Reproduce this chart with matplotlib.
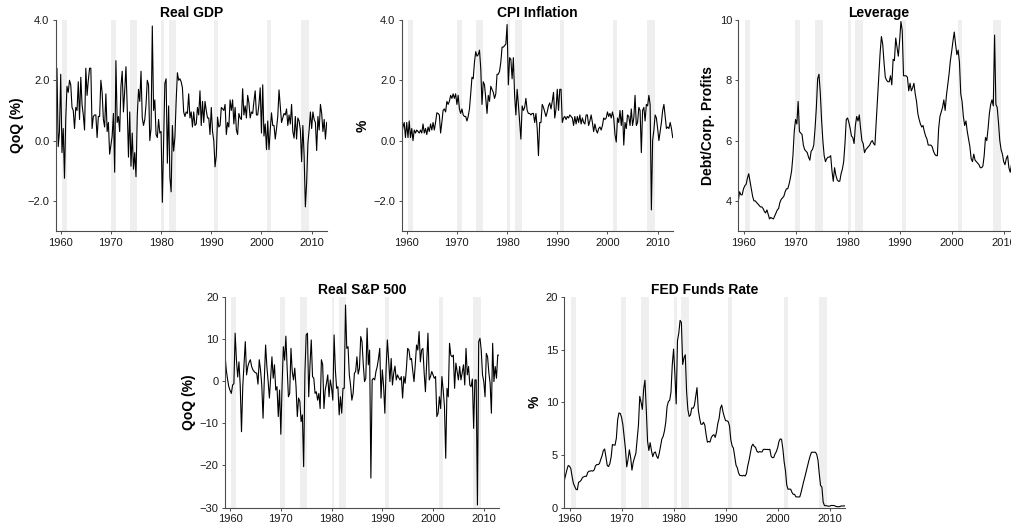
import numpy as np
import matplotlib
matplotlib.use("Agg")
import matplotlib.pyplot as plt
from matplotlib.ticker import FuncFormatter

plt.rcParams["font.family"] = ["Liberation Sans", "DejaVu Sans"]

# ---------------------------------------------------------------------------
# Quarterly series, first observation 1959Q1
# ---------------------------------------------------------------------------
START_YEAR = 1959.0

real_gdp = [
    2.1, 2.4, -0.2, 0.3,   2.2, -0.4, 0.4, -1.25,  0.7, 1.8, 1.6, 2.0,
    1.85, 1.1, 1.0, 0.4,   1.1, 1.0, 1.95, 0.7,    2.1, 1.2, 0.85, 0.35,
    2.4, 1.5, 2.0, 2.4,    2.4, 0.4, 0.8, 0.85,    0.85, 0.1, 0.8, 0.8,
    2.0, 1.6, 0.7, 0.45,   1.55, 0.3, 0.6, -0.45,  -0.15, 0.15, 0.9, -1.05,
    2.65, 0.6, 0.8, 0.3,   1.8, 2.3, 0.95, 1.65,   2.45, 1.1, -0.55, 0.95,
    -0.85, 0.25, -0.95, -0.4,  -1.2, 0.8, 1.7, 1.3,  2.3, 0.75, 0.5, 0.7,
    1.2, 2.0, 1.85, 0.0,   0.4, 3.8, 1.0, 1.35,    0.2, 0.1, 0.7, 0.25,
    0.3, -2.05, -0.1, 1.9,  2.05, -0.75, 1.15, -1.2,  -1.7, 0.5, -0.35, 0.1,
    1.3, 2.25, 2.0, 2.05,  1.95, 1.75, 0.95, 0.8,  0.95, 0.9, 1.55, 0.75,
    0.95, 0.45, 0.95, 0.5,  0.55, 1.1, 0.85, 1.65,  0.5, 1.3, 0.6, 1.3,
    1.0, 0.75, 0.75, 0.2,  1.1, 0.3, 0.0, -0.87,   -0.5, 0.78, 0.45, 0.5,
    1.1, 1.05, 1.0, 1.2,   0.2, 0.6, 0.45, 1.35,   1.0, 1.35, 0.55, 1.1,
    0.35, 0.2, 0.9, 0.75,  0.7, 1.72, 0.85, 1.15,  0.75, 1.5, 1.25, 0.75,
    0.95, 0.9, 1.3, 1.65,  0.85, 0.85, 1.2, 1.75,  0.25, 1.85, 0.15, 0.55,
    -0.3, 0.65, -0.3, 0.35,  0.92, 0.5, 0.5, 0.05,  0.4, 0.8, 1.68, 1.15,
    0.6, 0.75, 0.9, 0.85,  1.05, 0.5, 0.85, 0.55,  1.2, 0.3, 0.08, 0.8,
    0.05, 0.75, 0.65, 0.35,  -0.7, 0.5, -0.5, -2.2,  -1.4, -0.1, 0.35, 0.95,
    0.4, 0.95, 0.7, 0.6,   -0.33, 0.8, 0.35, 1.2,  0.9, 0.3, 0.7, 0.05,
    0.6,
]

cpi_inflation = [
    0.2, 0.45, 0.6, 0.1,   0.6, 0.1, 0.65, 0.1,    0.4, 0.0, 0.35, 0.25,
    0.35, 0.3, 0.25, 0.35,  0.25, 0.55, 0.25, 0.4,  0.2, 0.45, 0.3, 0.55,
    0.35, 0.6, 0.35, 0.6,  0.92, 0.9, 0.85, 0.25,  0.6, 1.0, 1.05, 0.95,
    1.3, 1.2, 1.3, 1.5,    1.4, 1.55, 1.4, 1.55,   1.2, 1.5, 1.05, 0.9,
    1.05, 0.85, 0.8, 0.8,  0.65, 0.8, 1.05, 1.55,  2.1, 2.05, 2.6, 2.95,
    2.8, 2.85, 3.0, 2.4,   1.2, 1.95, 1.85, 1.4,   0.9, 1.5, 1.3, 1.8,
    1.7, 1.6, 1.4, 1.55,   2.2, 2.2, 2.3, 2.6,     3.1, 3.1, 3.15, 3.2,
    3.85, 1.85, 2.75, 2.7,  2.05, 2.75, 1.5, 0.85,  1.7, 1.2, 0.6, 0.05,
    1.15, 1.0, 1.1, 1.4,   1.0, 0.9, 0.9, 0.85,    0.9, 0.9, 0.6, 0.9,
    0.4, -0.5, 0.6, 0.6,   1.2, 1.1, 0.95, 0.8,    0.95, 1.15, 1.25, 1.05,
    1.3, 1.6, 0.75, 1.05,  1.7, 1.0, 1.7, 1.7,     0.6, 0.75, 0.8, 0.7,
    0.8, 0.75, 0.85, 0.8,  0.75, 0.5, 0.8, 0.55,   0.8, 0.6, 0.85, 0.55,
    0.75, 0.6, 0.55, 0.85,  0.85, 0.5, 0.65, 0.85,  0.6, 0.3, 0.55, 0.35,
    0.25, 0.4, 0.45, 0.35,  0.5, 0.75, 0.7, 0.75,  0.95, 0.8, 0.9, 0.75,
    0.95, 0.75, 0.2, -0.05,  0.75, 0.6, 1.0, 0.5,  1.0, -0.15, 0.6, 0.4,
    0.85, 0.8, 0.5, 1.05,  0.5, 0.75, 1.5, 0.5,    0.6, 1.1, 1.0, -0.4,
    1.0, 1.1, 0.65, 1.2,   1.15, 1.5, 1.2, -2.3,   0.0, 0.35, 0.85, 0.75,
    0.4, 0.0, 0.3, 0.6,    1.0, 1.2, 0.8, 0.4,     0.45, 0.4, 0.6, 0.4,
    0.1,
]

leverage = [
    4.0, 4.3, 4.2, 4.2,    4.4, 4.5, 4.55, 4.75,   4.9, 4.65, 4.4, 4.15,
    4.0, 4.0, 3.95, 3.9,   3.85, 3.8, 3.8, 3.75,   3.65, 3.6, 3.7, 3.55,
    3.4, 3.45, 3.42, 3.4,  3.5, 3.6, 3.7, 3.75,    3.95, 4.05, 4.1, 4.15,
    4.3, 4.4, 4.4, 4.55,   4.75, 5.0, 5.5, 6.3,    6.7, 6.55, 7.3, 6.3,
    6.25, 6.2, 5.85, 5.7,  5.65, 5.6, 5.45, 5.35,  5.65, 5.7, 5.85, 6.4,
    7.1, 8.05, 8.2, 7.6,   6.7, 6.0, 5.5, 5.3,     5.4, 5.45, 5.45, 5.5,
    5.0, 4.65, 5.1, 4.85,  4.7, 4.65, 4.65, 4.9,   5.05, 5.3, 5.9, 6.7,
    6.75, 6.6, 6.4, 6.15,  6.1, 5.9, 6.5, 6.8,     6.65, 6.85, 6.4, 6.0,
    5.9, 5.6, 5.7, 5.75,   5.8, 5.85, 5.95, 6.0,   5.9, 5.85, 6.6, 7.4,
    8.1, 8.9, 9.45, 9.2,   8.6, 8.1, 8.0, 7.95,    7.95, 8.15, 7.85, 8.7,
    8.65, 9.4, 9.1, 8.8,   9.3, 9.95, 9.65, 8.15,  8.15, 8.15, 8.1, 7.65,
    7.9, 7.65, 7.75, 7.9,  7.55, 7.3, 6.9, 6.7,    6.55, 6.45, 6.5, 6.3,
    6.15, 6.05, 5.85, 5.85,  5.85, 5.8, 5.65, 5.55,  5.5, 5.5, 6.4, 6.8,
    6.95, 7.1, 7.35, 7.0,  7.5, 7.85, 8.2, 8.65,   8.95, 9.3, 9.6, 9.2,
    8.85, 9.0, 8.6, 7.55,  7.3, 6.8, 6.5, 6.65,    6.3, 6.05, 5.8, 5.4,
    5.3, 5.55, 5.35, 5.3,  5.25, 5.2, 5.1, 5.1,    5.15, 5.5, 6.1, 6.0,
    6.4, 6.9, 7.2, 7.35,   7.15, 9.5, 7.2, 7.1,    6.6, 6.0, 5.7, 5.55,
    5.3, 5.2, 5.4, 5.5,    5.1, 4.95, 5.2, 5.3,    5.25,
]

sp500_real = [
    6.2, 2.7, 0.5, -1.3,   -2.2, -2.9, -0.9, -0.6,  11.4, 5.1, 1.0, 4.6,
    -1.0, -12.0, -1.3, 4.0,  9.4, 1.5, 3.5, 4.5,  5.1, 3.5, 2.7, 2.3,
    2.0, 1.9, -0.7, 5.1,   2.7, -1.0, -8.8, 0.5,   8.6, 3.5, 0.0, -4.0,
    1.0, 5.8, 0.7, 3.9,    -2.1, -1.3, -8.4, -2.1,  -12.6, -1.0, 8.2, 5.0,
    10.7, 3.0, -3.7, -2.9,  7.8, 2.3, 0.3, 3.1,   -1.3, -8.4, -4.0, -4.8,
    -9.6, -8.0, -20.3, 2.0,  11.0, 11.4, -3.7, 4.0,  9.8, 1.1, 0.7, -2.9,
    -2.5, -4.5, -2.9, -6.5,  5.1, 3.9, -6.5, -2.1,  -0.5, 1.5, -3.7, 0.3,
    -1.5, -4.5, 11.0, 2.7,  -1.7, -1.3, -8.0, -3.7,  -7.6, -1.7, -1.7, 18.1,
    7.8, 8.2, 1.5, -1.0,   -4.5, -2.9, 1.9, 2.3,   5.8, 1.7, 3.1, 10.6,
    9.4, 4.0, -0.1, 0.7,   12.6, 3.9, 7.4, -23.0,  0.3, 0.7, 0.3, 2.3,
    3.5, 5.4, 7.8, -4.0,   2.7, -1.0, -7.6, 3.0,   9.8, 5.1, -0.1, 5.4,
    -0.9, 1.9, 3.6, 0.3,   1.5, 0.8, 0.3, 1.1,     -4.0, 1.1, -0.5, 3.0,
    7.8, 7.4, 5.1, 5.4,    2.5, -0.1, 4.0, 8.6,    7.4, 11.8, 4.6, 7.4,
    7.8, 2.0, -2.5, 4.3,   11.4, 0.3, 1.1, 2.3,    1.5, 0.7, 1.1, -8.4,
    -7.6, -3.7, -6.5, 1.1,  -2.1, -6.0, -18.3, -1.7,  -3.7, 9.0, 6.2, 5.8,
    6.2, -1.7, 4.3, 2.3,   0.3, 3.5, 0.3, 2.0,     3.9, -0.9, 7.8, 1.5,
    3.5, -0.9, -1.3, 0.5,  -11.2, 0.3, 0.3, -29.4,  9.4, 10.2, 7.4, 1.5,
    -0.1, -3.7, 6.6, 5.8,  2.0, -0.5, -7.6, 9.0,   -0.1, 3.5, 0.7, 6.2,
    6.2,
]

fed_funds = [
    2.56, 3.08, 3.58, 3.99,  3.93, 3.70, 2.94, 2.30,  2.00, 1.73, 1.68, 2.40,
    2.46, 2.61, 2.85, 2.92,  2.97, 2.96, 3.33, 3.45,  3.46, 3.49, 3.46, 3.58,
    3.97, 4.08, 4.07, 4.17,  4.56, 4.91, 5.41, 5.56,  4.82, 3.99, 3.89, 4.17,
    4.79, 5.98, 5.94, 5.92,  6.57, 8.33, 8.98, 8.94,  8.57, 7.88, 6.70, 5.57,
    3.86, 4.56, 5.48, 4.75,  3.55, 4.30, 4.74, 5.14,  6.54, 7.82, 10.56, 10.00,
    9.32, 11.25, 12.09, 9.35,  6.30, 5.42, 6.16, 5.41,  4.83, 5.20, 5.28, 4.87,
    4.66, 5.16, 5.82, 6.51,  6.76, 7.28, 8.10, 9.58,  10.07, 10.18, 10.95, 13.58,
    15.05, 12.69, 9.84, 15.85,  16.57, 17.78, 17.58, 13.59,  14.23, 14.51, 11.01, 9.29,
    8.65, 8.80, 9.46, 9.43,  9.69, 10.56, 11.39, 9.27,  8.48, 7.92, 7.90, 8.10,
    7.83, 6.92, 6.21, 6.27,  6.22, 6.65, 6.84, 6.92,  6.66, 7.16, 7.98, 8.47,
    9.44, 9.73, 9.08, 8.61,  8.25, 8.24, 8.16, 7.74,  6.43, 5.86, 5.64, 4.82,
    4.02, 3.77, 3.26, 3.04,  3.04, 3.00, 3.06, 2.99,  3.21, 3.94, 4.49, 5.17,
    5.81, 6.02, 5.80, 5.72,  5.36, 5.24, 5.31, 5.28,  5.28, 5.52, 5.53, 5.51,
    5.52, 5.50, 5.53, 4.86,  4.73, 4.75, 5.09, 5.31,  5.68, 6.27, 6.52, 6.47,
    5.59, 4.33, 3.50, 2.13,  1.73, 1.75, 1.74, 1.44,  1.25, 1.25, 1.02, 1.00,
    1.00, 1.01, 1.43, 1.95,  2.47, 2.94, 3.46, 3.98,  4.46, 4.91, 5.25, 5.25,
    5.26, 5.25, 5.07, 4.50,  3.18, 2.09, 1.94, 0.51,  0.18, 0.18, 0.16, 0.12,
    0.13, 0.19, 0.19, 0.19,  0.16, 0.09, 0.08, 0.07,  0.10, 0.15, 0.14, 0.16,
    0.14,
]

# NBER recessions (fractional years, monthly resolution)
recession_start = [1960.25, 1969.92, 1973.83, 1980.00, 1981.50, 1990.50, 2001.17, 2007.92]
recession_end = [1961.17, 1970.92, 1975.25, 1980.58, 1982.92, 1991.25, 2001.92, 2009.50]

x_ticks = [1960, 1970, 1980, 1990, 2000, 2010]

# ---------------------------------------------------------------------------
W, H = 1012, 528
fig = plt.figure(figsize=(W / 100, H / 100), dpi=100)

AXIS_GREY = "#4d4d4d"
TEXT = "#1a1a1a"


def minus(s):
    return s.replace("-", "\u2212")


def make_panel(box, values, title, ylabel, ylim, yticks, decimals, label_x):
    left, top, right, bottom = box
    ax = fig.add_axes([left / W, 1 - bottom / H, (right - left) / W, (bottom - top) / H])
    for s, e in zip(recession_start, recession_end):
        ax.axvspan(s, e, color="#efefef", lw=0, zorder=0)
    dates = START_YEAR + 0.25 * np.arange(len(values))
    ax.plot(dates, values, color="black", lw=0.8, zorder=2)

    ax.set_xlim(1959.0, 2013.0)
    ax.set_ylim(*ylim)
    ax.set_xticks(x_ticks)
    ax.set_yticks(yticks)
    ax.yaxis.set_major_formatter(
        FuncFormatter(lambda v, _: minus(f"{v:.{decimals}f}"))
    )
    for side in ("top", "right"):
        ax.spines[side].set_visible(False)
    for side in ("left", "bottom"):
        ax.spines[side].set_color(AXIS_GREY)
        ax.spines[side].set_linewidth(0.8)
    ax.tick_params(axis="both", colors=AXIS_GREY, labelcolor=TEXT,
                   labelsize=8, length=2.5, width=0.7, pad=2)
    ax.tick_params(axis="x", pad=2.5)

    ax.set_title(title, fontsize=10, fontweight="bold", pad=2.5, color="black")
    ax.set_ylabel(ylabel, fontsize=10, fontweight="bold", color="black",
                  va="center", ha="center")
    ax.yaxis.set_label_coords(label_x, 0.5)
    return ax


make_panel((55.7, 20, 326.7, 231), real_gdp, "Real GDP", "QoQ (%)",
           (-3, 4), [-2, 0, 2, 4], 1, -0.143)
make_panel((401.7, 20, 672.7, 231), cpi_inflation, "CPI Inflation", "%",
           (-3, 4), [-2, 0, 2, 4], 1, -0.143)
make_panel((738.3, 20, 1019.3, 231), leverage, "Leverage", "Debt/Corp. Profits",
           (3, 10), [4, 6, 8, 10], 0, -0.108)
make_panel((225.0, 297, 499.0, 507.5), sp500_real, "Real S&P 500", "QoQ (%)",
           (-30, 20), [-30, -20, -10, 0, 10, 20], 0, -0.133)
make_panel((564.3, 297, 845.3, 507.5), fed_funds, "FED Funds Rate", "%",
           (0, 20), [0, 5, 10, 15, 20], 0, -0.104)

fig.savefig("out.png", dpi=100)
